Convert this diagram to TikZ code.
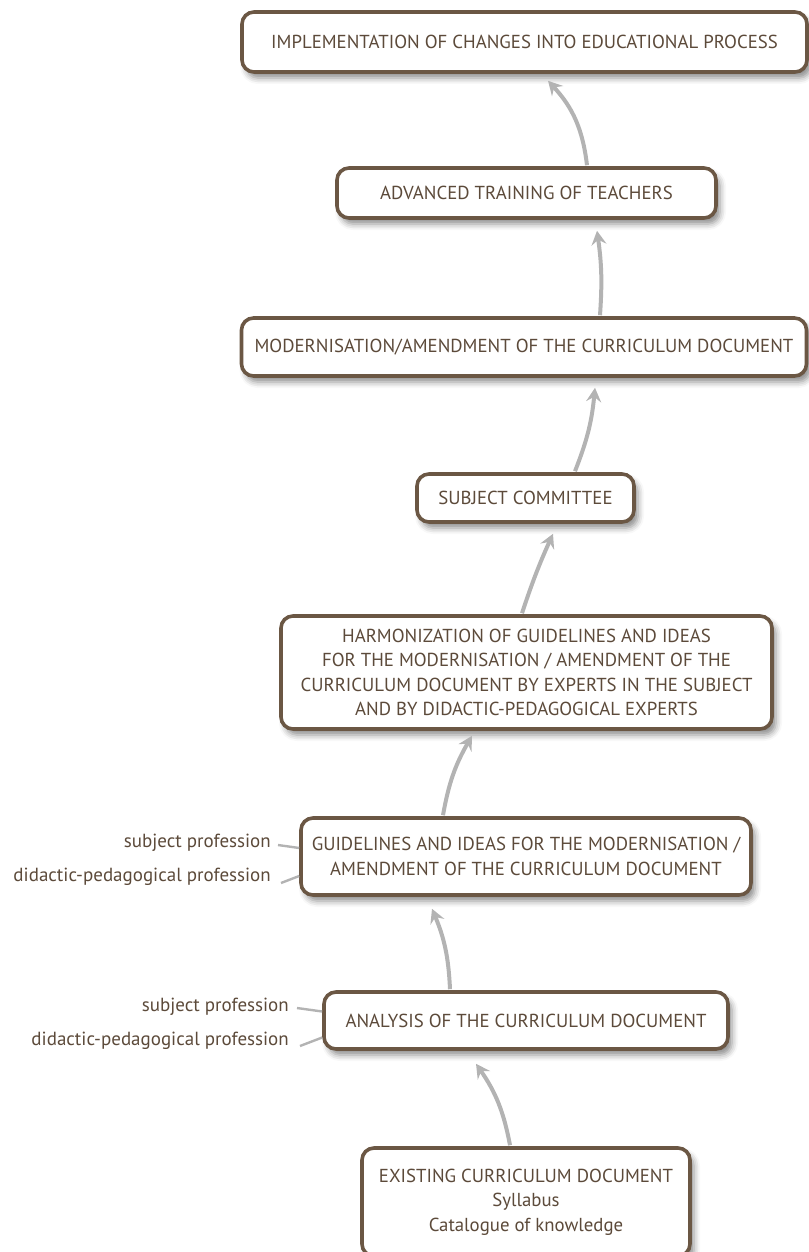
\documentclass[tikz,border=0pt]{standalone}
\usepackage{fontspec}
\setmainfont{PT Sans}
\usetikzlibrary{arrows.meta,shadows.blur}
\definecolor{txt}{HTML}{5C4A3A}
\definecolor{brd}{HTML}{6B5744}
\definecolor{arr}{HTML}{B3B3B3}
\begin{document}
\begin{tikzpicture}[x=1pt,y=1pt,
  box/.style={draw=brd, line width=3.6pt, rounded corners=12pt, fill=white,
    text=txt, align=center, inner sep=0pt,
    font=\fontsize{18.8}{24.3}\selectfont,
    blur shadow={shadow xshift=4pt,shadow yshift=-6pt,shadow blur radius=6pt,shadow opacity=45}},
  lbl/.style={text=txt, anchor=east, inner sep=0pt, font=\fontsize{19}{22}\selectfont},
  flow/.style={draw=arr, line width=4pt, -{Stealth[length=14pt,width=15pt,inset=5pt]}},
  tick/.style={draw=arr, line width=2.4pt}]
\useasboundingbox (0,-1252) rectangle (808,0);
\node[box, minimum width=565pt, minimum height=60pt] (impl) at (524.5,-42) {IMPLEMENTATION OF CHANGES INTO EDUCATIONAL PROCESS};
\node[box, minimum width=379pt, minimum height=50pt] (adv) at (526.5,-193) {ADVANCED TRAINING OF TEACHERS};
\node[box, minimum width=565pt, minimum height=58pt] (mod) at (524,-347) {MODERNISATION/AMENDMENT OF THE CURRICULUM DOCUMENT};
\node[box, minimum width=217pt, minimum height=48pt] (subj) at (525.5,-498) {SUBJECT COMMITTEE};
\node[box, minimum width=491pt, minimum height=113pt] (harm) at (526.5,-672.5) {HARMONIZATION OF GUIDELINES AND IDEAS\\FOR THE MODERNISATION / AMENDMENT OF THE\\CURRICULUM DOCUMENT BY EXPERTS IN THE SUBJECT\\AND BY DIDACTIC-PEDAGOGICAL EXPERTS};
\node[box, minimum width=450pt, minimum height=77pt] (guide) at (526,-856.5) {GUIDELINES AND IDEAS FOR THE MODERNISATION /\\AMENDMENT OF THE CURRICULUM DOCUMENT};
\node[box, minimum width=404pt, minimum height=57pt] (anal) at (526,-1020.5) {ANALYSIS OF THE CURRICULUM DOCUMENT};
\node[box, minimum width=328pt, minimum height=108pt] (exist) at (526,-1202) {EXISTING CURRICULUM DOCUMENT\\Syllabus\\Catalogue of knowledge};

\node[lbl] (gs) at (271,-843) {subject profession};
\node[lbl] (gd) at (271,-877) {didactic-pedagogical profession};
\node[lbl] (as) at (289,-1007) {subject profession};
\node[lbl] (ad) at (289,-1041) {didactic-pedagogical profession};

\draw[tick] ([xshift=7pt,yshift=-2pt]gs.east) -- ([yshift=8.5pt]guide.west);
\draw[tick] ([xshift=10pt,yshift=-6pt]gd.east) -- ([yshift=-19.5pt]guide.west);
\draw[tick] ([xshift=8pt,yshift=-1pt]as.east) -- ([yshift=9pt]anal.west);
\draw[tick] ([xshift=11pt,yshift=-5pt]ad.east) -- ([yshift=-17pt]anal.west);

\draw[flow] ([xshift=-16pt,yshift=1pt]exist.north) to[bend right=12] ([xshift=-50pt,yshift=-13pt]anal.south);
\draw[flow] ([xshift=-76pt,yshift=1pt]anal.north) to[bend right=10] ([xshift=-94pt,yshift=-12pt]guide.south);
\draw[flow] ([xshift=-83pt,yshift=1pt]guide.north) to[bend left=10] ([xshift=-54.5pt,yshift=-5pt]harm.south);
\draw[flow] ([xshift=-4.5pt,yshift=1pt]harm.north) to[bend left=3] ([xshift=27.5pt,yshift=-10pt]subj.south);
\draw[flow] ([xshift=49.5pt,yshift=1pt]subj.north) to[bend right=8] ([xshift=71pt,yshift=-10pt]mod.south);
\draw[flow] ([xshift=76pt,yshift=1pt]mod.north) to[bend right=6] ([xshift=70.5pt,yshift=-11pt]adv.south);
\draw[flow] ([xshift=60.5pt,yshift=1pt]adv.north) to[bend right=18] ([xshift=23.5pt,yshift=-7pt]impl.south);
\end{tikzpicture}
\end{document}
